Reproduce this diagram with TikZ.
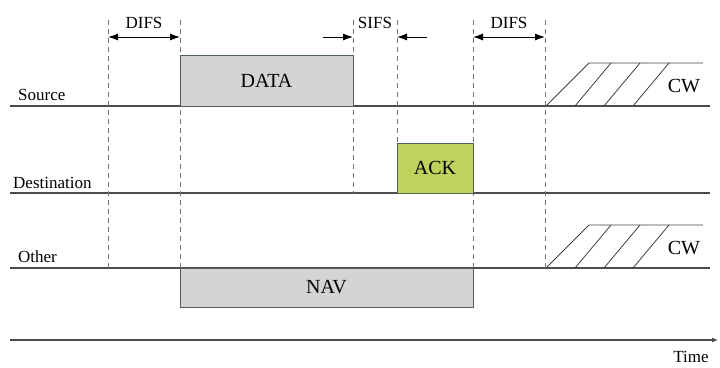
\documentclass[tikz,border=0pt]{standalone}
\usepackage{fontspec}
\setmainfont{Liberation Serif}
\usetikzlibrary{positioning,arrows.meta}

\definecolor{boxgray}{HTML}{D4D4D4}
\definecolor{ackgreen}{HTML}{BDD35C}
\definecolor{rim}{HTML}{4F5F5C}

\begin{document}
\begin{tikzpicture}[x=1pt,y=-1pt,>={Latex[length=10pt,width=7pt]},
		lane/.style={draw=black!70,line width=1.1pt},
		guide/.style={draw=black!55,dash pattern=on 5pt off 4pt,line width=0.9pt},
		frame/.style={rectangle,draw=rim,line width=1pt,inner sep=0pt,font=\fontsize{20}{22}\selectfont},
		lbl/.style={font=\fontsize{17}{19}\selectfont,inner sep=0pt}]
			\useasboundingbox (0,0) rectangle (720,367);

			% station lines
			\foreach \n/\y in {s/106,d/193,o/268} {
				\coordinate (\n0) at (10,\y);
				\coordinate (\n1) at (710,\y);
				\draw[lane] (\n0) -- (\n1);
			}
			\node[lbl,anchor=base west] (src) at (18,100) {Source};
			\node[lbl,anchor=base west] (dst) at (13,188) {Destination};
			\node[lbl,anchor=base west] (oth) at (18,262) {Other};

			% guides
			\foreach \x/\y in {108/268,180/268,353/193,397/143,473/268,545/268} {
				\draw[guide] (\x,20) -- (\x,\y);
			}

			% frames
			\node[frame,fill=boxgray,minimum width=173pt,minimum height=51pt] (data) at (266.5,80.5) {DATA};
			\node[frame,fill=ackgreen,minimum width=76pt,minimum height=50pt] (ack) at (435,168) {ACK};
			\node[frame,fill=boxgray,minimum width=293pt,minimum height=39pt] (nav) at (326.5,287.5) {NAV};

			% spacings
			\coordinate (a0) at (108,37); \coordinate (a1) at (180,37);
			\coordinate (b0) at (473,37); \coordinate (b1) at (545,37);
			\draw[<->,line width=1pt] (a0) -- (a1);
			\draw[<->,line width=1pt] (b0) -- (b1);
			\node[lbl,anchor=base] (difsa) at (144,28) {DIFS};
			\node[lbl,anchor=base] (difsb) at (509,28) {DIFS};
			\coordinate (c0) at (323,37); \coordinate (c1) at (353,37);
			\coordinate (e0) at (427,37); \coordinate (e1) at (397,37);
			\draw[->,line width=1pt] (c0) -- (c1);
			\draw[->,line width=1pt] (e0) -- (e1);
			\node[lbl,anchor=base] (sifs) at (375,28) {SIFS};

			% contention windows
			\foreach \y/\n in {106/cwa,268/cwb} {
				\draw[line width=0.8pt,black!75] (546,\y) -- (589,\y-43) -- (703,\y-43);
				\draw[line width=0.8pt,black!75] (575,\y) -- (611,\y-43);
				\draw[line width=0.8pt,black!75] (604,\y) -- (640,\y-43);
				\draw[line width=0.8pt,black!75] (633,\y) -- (669,\y-43);
				\node[frame,draw=none,anchor=base] (\n) at (684,\y-14) {CW};
			}

			% time axis
			\coordinate (t0) at (10,340);
			\coordinate (t1) at (718,340);
			\draw[lane,-{Latex[length=6pt,width=5pt]}] (t0) -- (t1);
			\node[lbl,anchor=base] (time) at (691,362) {Time};
		\end{tikzpicture}
\end{document}
